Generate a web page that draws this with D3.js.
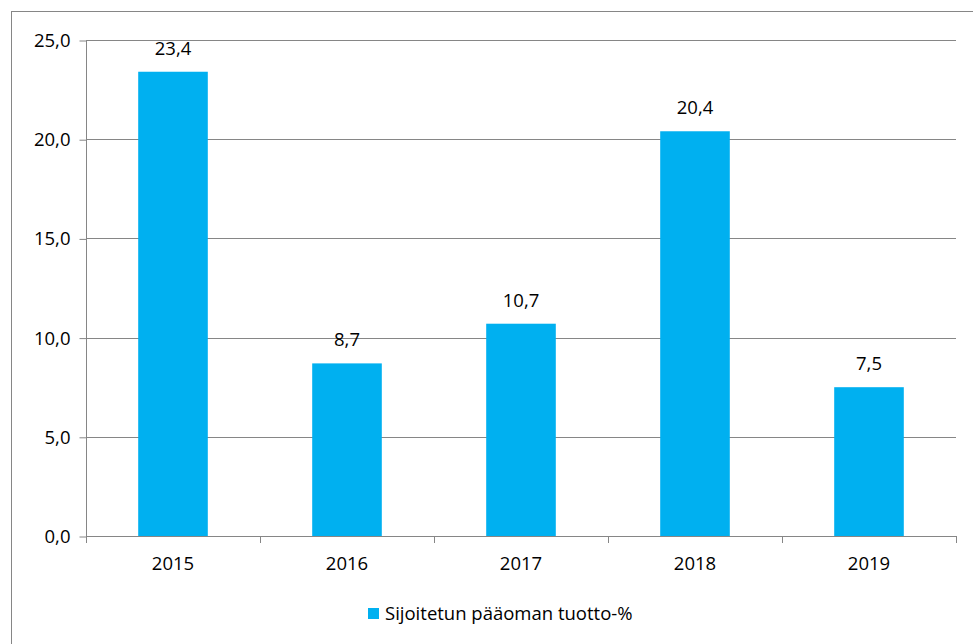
<!DOCTYPE html>
<html>
<head>
<meta charset="utf-8">
<script src="https://cdn.jsdelivr.net/npm/d3@7"></script>
<style>
  body { margin: 0; background: #fff; }
  svg text { font-family: "Open Sans", sans-serif; fill: #000; }
</style>
</head>
<body>
<div id="viz"></div>
<script>
// data
var years = ['2015', '2016', '2017', '2018', '2019'];
var values = [23.4, 8.7, 10.7, 20.4, 7.5];
var yTicks = [0, 5, 10, 15, 20, 25];
var seriesName = 'Sijoitetun pääoman tuotto-%';

var width = 973,
    height = 644,
    barColor = '#00B0F0',
    gridColor = '#868686',
    fontSize = 18.5;

var fmt = function(v){ return v.toFixed(1).replace('.', ','); };

var svg = d3.select('#viz').append('svg')
    .attr('width', width)
    .attr('height', height);

// outer chart frame (runs off the right and bottom edges)
svg.append('rect')
    .attr('x', 11.5).attr('y', 11.5)
    .attr('width', 1000).attr('height', 700)
    .attr('fill', 'none')
    .attr('stroke', gridColor);

var yScale = d3.scaleLinear()
    .domain([0, 25])
    .range([536, 40]);

var xScale = d3.scaleBand()
    .domain(years)
    .paddingInner(0.6)
    .paddingOuter(0.3)
    .range([86, 956]);

// gridlines
svg.append('g').selectAll('line').data(yTicks.slice(1))
  .enter().append('line')
    .attr('x1', 86).attr('x2', 956)
    .attr('y1', function(d){ return Math.round(yScale(d)) + 0.5; })
    .attr('y2', function(d){ return Math.round(yScale(d)) + 0.5; })
    .attr('stroke', gridColor);

// y axis
var yAxis = svg.append('g')
    .attr('transform', 'translate(86.5,0.5)')
    .call(d3.axisLeft(yScale).tickValues(yTicks).tickFormat(fmt).tickSize(7).tickPadding(9));
yAxis.select('.domain').attr('stroke', gridColor).attr('d', 'M0,' + yScale(25) + 'V' + yScale(0));
yAxis.selectAll('.tick line').attr('stroke', gridColor);
yAxis.selectAll('.tick text').style('font-size', fontSize + 'px').attr('fill', '#000');

// bars
svg.append('g').selectAll('rect').data(values)
  .enter().append('rect')
    .attr('x', function(d, i){ return xScale(years[i]); })
    .attr('width', xScale.bandwidth())
    .attr('y', function(d){ return yScale(d); })
    .attr('height', function(d){ return yScale(0) - yScale(d); })
    .attr('fill', barColor);

// x axis baseline and category boundary ticks
var step = xScale.step();
svg.append('line')
    .attr('x1', 86).attr('x2', 956.5)
    .attr('y1', yScale(0) + 0.5).attr('y2', yScale(0) + 0.5)
    .attr('stroke', gridColor);
svg.append('g').selectAll('line').data(years.concat(['end']))
  .enter().append('line')
    .attr('x1', function(d, i){ return Math.round(86 + i * step) + 0.5; })
    .attr('x2', function(d, i){ return Math.round(86 + i * step) + 0.5; })
    .attr('y1', yScale(0))
    .attr('y2', yScale(0) + 7)
    .attr('stroke', gridColor);

svg.append('g').selectAll('text').data(years)
  .enter().append('text')
    .attr('x', function(d){ return xScale(d) + xScale.bandwidth() / 2; })
    .attr('y', 570)
    .attr('text-anchor', 'middle')
    .style('font-size', fontSize + 'px')
    .text(function(d){ return d; });

// value labels
svg.append('g').selectAll('text').data(values)
  .enter().append('text')
    .attr('x', function(d, i){ return xScale(years[i]) + xScale.bandwidth() / 2; })
    .attr('y', function(d){ return yScale(d) - 17; })
    .attr('text-anchor', 'middle')
    .style('font-size', fontSize + 'px')
    .text(fmt);

// legend
var legend = svg.append('g').attr('transform', 'translate(368,608)');
legend.append('rect')
    .attr('width', 11).attr('height', 11)
    .attr('fill', barColor);
legend.append('text')
    .attr('x', 17).attr('y', 12)
    .style('font-size', fontSize + 'px')
    .text(seriesName);
</script>
</body>
</html>
